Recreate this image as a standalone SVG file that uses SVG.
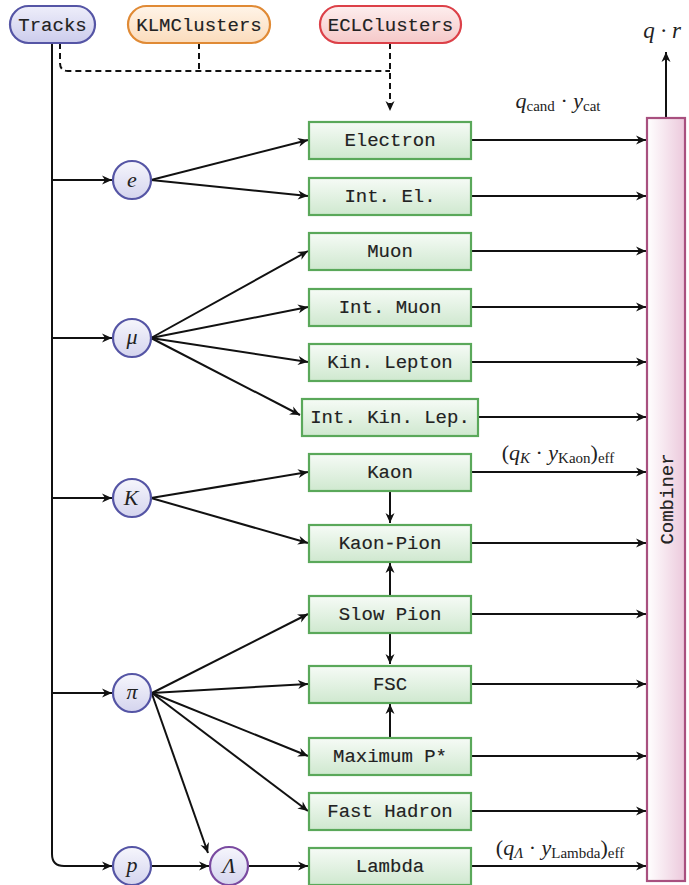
<svg xmlns="http://www.w3.org/2000/svg" width="689" height="885" viewBox="0 0 689 885">
<defs>
<linearGradient id="gBox" x1="0" y1="0" x2="0" y2="1"><stop offset="0" stop-color="#f6fbf6"/><stop offset="1" stop-color="#cfe8cf"/></linearGradient>
<linearGradient id="gTr" x1="0" y1="0" x2="0" y2="1"><stop offset="0" stop-color="#eeeefa"/><stop offset="1" stop-color="#ccccec"/></linearGradient>
<linearGradient id="gKlm" x1="0" y1="0" x2="0" y2="1"><stop offset="0" stop-color="#fff4e8"/><stop offset="1" stop-color="#fbdcbc"/></linearGradient>
<linearGradient id="gEcl" x1="0" y1="0" x2="0" y2="1"><stop offset="0" stop-color="#fdeeee"/><stop offset="1" stop-color="#f5c8c8"/></linearGradient>
<linearGradient id="gCirc" x1="0" y1="0" x2="0" y2="1"><stop offset="0" stop-color="#f6f6fc"/><stop offset="1" stop-color="#d4d4ee"/></linearGradient>
<linearGradient id="gComb" x1="0" y1="0" x2="1" y2="0"><stop offset="0" stop-color="#ffffff"/><stop offset="1" stop-color="#ecc9dc"/></linearGradient>
<marker id="ar" markerUnits="userSpaceOnUse" markerWidth="12" markerHeight="12" viewBox="-11 -6 12 12" refX="0" refY="0" orient="auto"><path d="M-10,-4.5 L0,0 L-10,4.5 L-7,0 Z" fill="#111"/></marker>
</defs>
<style>
.box{fill:url(#gBox);stroke:#5aa85a;stroke-width:2.2}
.lbl{font-family:"Liberation Mono","Courier New",monospace;font-size:19px;fill:#222;text-anchor:middle;stroke:#222;stroke-width:0.15}
.circ{fill:url(#gCirc);stroke:#5555a5;stroke-width:2.2}
.m{font-family:"Liberation Serif","Times New Roman",serif;font-style:italic;font-size:22px;fill:#222;text-anchor:middle}
.ml{font-family:"Liberation Serif","Times New Roman",serif;font-size:22px;fill:#222;text-anchor:middle}
.sub{font-size:15px;font-style:normal}
.i{font-style:italic}
.c{fill:none;stroke:#111;stroke-width:2;marker-end:url(#ar)}
.d{fill:none;stroke:#111;stroke-width:2;stroke-dasharray:6,4}
</style>

<g id="connectors">
<path class="d" d="M60,43 L60,63 Q60,71 68,71 L390,71"/>
<path class="d" d="M199,43 L199,71"/>
<path class="d" d="M390,43 L390,111" style="marker-end:url(#ar)"/>
<path class="c" d="M52,43 L52,854 Q52,866 64,866 L112,866"/>
<path class="c" d="M52,180 L112,180"/>
<path class="c" d="M52,338 L112,338"/>
<path class="c" d="M52,498 L112,498"/>
<path class="c" d="M52,693 L112,693"/>
<path class="c" d="M151,180 L308,140"/>
<path class="c" d="M151,180 L308,196"/>
<path class="c" d="M151,338 L308,251"/>
<path class="c" d="M151,338 L308,307"/>
<path class="c" d="M151,338 L308,362"/>
<path class="c" d="M151,338 L300,415"/>
<path class="c" d="M151,498 L308,472"/>
<path class="c" d="M151,498 L308,543"/>
<path class="c" d="M152,693 L308,614"/>
<path class="c" d="M152,693 L308,684"/>
<path class="c" d="M152,693 L308,756"/>
<path class="c" d="M152,693 L308,811"/>
<path class="c" d="M152,694 L208,853"/>
<path class="c" d="M151,866 L209,866"/>
<path class="c" d="M248,866 L308,866"/>
<path class="c" d="M390,491 L390,523"/>
<path class="c" d="M390,596 L390,563"/>
<path class="c" d="M390,633 L390,664"/>
<path class="c" d="M390,738 L390,704"/>
<path class="c" d="M472,140 L646,140"/>
<path class="c" d="M472,196 L646,196"/>
<path class="c" d="M472,251 L646,251"/>
<path class="c" d="M472,307 L646,307"/>
<path class="c" d="M472,362 L646,362"/>
<path class="c" d="M479,417 L646,417"/>
<path class="c" d="M472,472 L646,472"/>
<path class="c" d="M472,543 L646,543"/>
<path class="c" d="M472,614 L646,614"/>
<path class="c" d="M472,684 L646,684"/>
<path class="c" d="M472,756 L646,756"/>
<path class="c" d="M472,811 L646,811"/>
<path class="c" d="M472,866 L646,866"/>
<path class="c" d="M666,118 L666,52"/>
</g>

<g id="Tracks"><rect x="10" y="6" width="85" height="37" rx="18.5" fill="url(#gTr)" stroke="#5555a5" stroke-width="2.2"/><text class="lbl" x="52.5" y="31">Tracks</text></g>
<g id="KLMClusters"><rect x="128" y="6" width="142" height="37" rx="18.5" fill="url(#gKlm)" stroke="#e08a35" stroke-width="2.2"/><text class="lbl" x="199" y="31">KLMClusters</text></g>
<g id="ECLClusters"><rect x="320" y="6" width="141" height="37" rx="18.5" fill="url(#gEcl)" stroke="#dc4048" stroke-width="2.2"/><text class="lbl" x="390.5" y="31">ECLClusters</text></g>

<g id="Electron"><rect class="box" x="309" y="122" width="162" height="37"/><text class="lbl" x="390" y="146">Electron</text></g>
<g id="IntEl"><rect class="box" x="309" y="178" width="162" height="37"/><text class="lbl" x="390" y="202">Int. El.</text></g>
<g id="Muon"><rect class="box" x="309" y="233" width="162" height="37"/><text class="lbl" x="390" y="257">Muon</text></g>
<g id="IntMuon"><rect class="box" x="309" y="289" width="162" height="37"/><text class="lbl" x="390" y="313">Int. Muon</text></g>
<g id="KinLepton"><rect class="box" x="309" y="344" width="162" height="37"/><text class="lbl" x="390" y="368">Kin. Lepton</text></g>
<g id="IntKinLep"><rect class="box" x="302" y="399" width="176" height="37"/><text class="lbl" x="390" y="423">Int. Kin. Lep.</text></g>
<g id="Kaon"><rect class="box" x="309" y="454" width="162" height="37"/><text class="lbl" x="390" y="478">Kaon</text></g>
<g id="KaonPion"><rect class="box" x="309" y="525" width="162" height="37"/><text class="lbl" x="390" y="549">Kaon-Pion</text></g>
<g id="SlowPion"><rect class="box" x="309" y="596" width="162" height="37"/><text class="lbl" x="390" y="620">Slow Pion</text></g>
<g id="FSC"><rect class="box" x="309" y="666" width="162" height="37"/><text class="lbl" x="390" y="690">FSC</text></g>
<g id="MaximumP"><rect class="box" x="309" y="738" width="162" height="37"/><text class="lbl" x="390" y="762">Maximum P*</text></g>
<g id="FastHadron"><rect class="box" x="309" y="793" width="162" height="37"/><text class="lbl" x="390" y="817">Fast Hadron</text></g>
<g id="Lambda"><rect class="box" x="309" y="848" width="162" height="37"/><text class="lbl" x="390" y="872">Lambda</text></g>

<g id="Combiner"><rect x="647" y="118" width="38" height="763" fill="url(#gComb)" stroke="#a8507f" stroke-width="2.2"/><text class="lbl" transform="translate(673,499) rotate(-90)" x="0" y="0">Combiner</text></g>

<g id="e"><circle class="circ" cx="132" cy="180" r="19"/><text class="m" x="132" y="187">e</text></g>
<g id="mu"><circle class="circ" cx="132" cy="338" r="19"/><text class="m" x="132" y="344">μ</text></g>
<g id="K"><circle class="circ" cx="132" cy="498" r="19"/><text class="m" x="131" y="505">K</text></g>
<g id="pi"><circle class="circ" cx="132" cy="693" r="19"/><text class="m" x="132" y="699">π</text></g>
<g id="p"><circle class="circ" cx="132" cy="866" r="19"/><text class="m" x="132" y="872">p</text></g>
<g id="Lam"><circle cx="229" cy="866" r="19" fill="url(#gCirc)" stroke="#7a4aa0" stroke-width="2.2"/><text class="m" x="229" y="873">Λ</text></g>

<g id="labels">
<text class="m" x="662" y="38" style="font-size:23px">q · r</text>
<text class="ml" x="558" y="108"><tspan class="i">q</tspan><tspan class="sub" dy="3">cand</tspan><tspan dy="-3"> · </tspan><tspan class="i">y</tspan><tspan class="sub" dy="3">cat</tspan></text>
<text class="ml" x="558" y="460">(<tspan class="i">q</tspan><tspan class="sub i" dy="3">K</tspan><tspan dy="-3"> · </tspan><tspan class="i">y</tspan><tspan class="sub" dy="3">Kaon</tspan><tspan dy="-3">)</tspan><tspan class="sub" dy="3">eff</tspan></text>
<text class="ml" x="560" y="855">(<tspan class="i">q</tspan><tspan class="sub i" dy="3">Λ</tspan><tspan dy="-3"> · </tspan><tspan class="i">y</tspan><tspan class="sub" dy="3">Lambda</tspan><tspan dy="-3">)</tspan><tspan class="sub" dy="3">eff</tspan></text>
</g>
</svg>
